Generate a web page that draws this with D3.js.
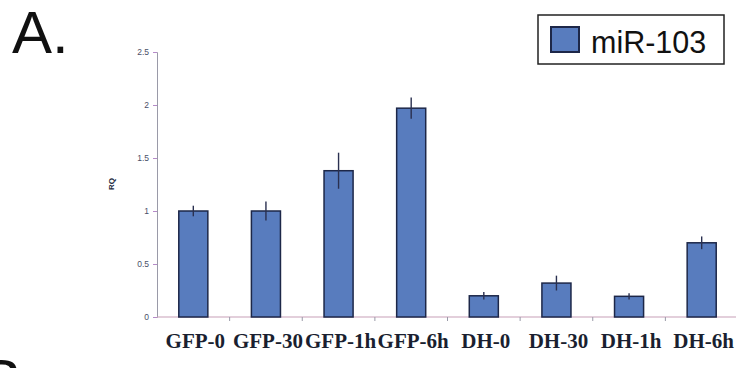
<!DOCTYPE html>
<html>
<head>
<meta charset="utf-8">
<script src="https://cdn.jsdelivr.net/npm/d3@7"></script>
<style>
  html, body { margin: 0; padding: 0; background: #fff; }
  svg { display: block; }
</style>
</head>
<body>
<svg id="chart" width="736" height="368"></svg>
<script>
// Relative quantity (RQ) of miR-103 per condition
const categories = ["GFP-0", "GFP-30", "GFP-1h", "GFP-6h", "DH-0", "DH-30", "DH-1h", "DH-6h"];
const rqValues   = [1.0, 1.0, 1.38, 1.97, 0.20, 0.32, 0.195, 0.70];
const rqErrors   = [0.05, 0.09, 0.17, 0.10, 0.035, 0.07, 0.03, 0.06];
const yTicks     = [0, 0.5, 1, 1.5, 2, 2.5];
const seriesName = "miR-103";

const svg = d3.select("#chart");
const margin = { left: 157, right: -2, top: 52, bottom: 51 };
const W = 736, H = 368;

const x = d3.scaleBand()
  .domain(categories)
  .range([margin.left, W - margin.right])
  .paddingInner(0.6)
  .paddingOuter(0.3);

const y = d3.scaleLinear()
  .domain([0, 2.5])
  .range([H - margin.bottom, margin.top]);

const barFill = "#587cbe";
const barStroke = "#1d2748";

// Panel letter
svg.append("text")
  .attr("x", 12).attr("y", 53)
  .attr("font-family", "Liberation Sans, Arial, sans-serif")
  .attr("font-size", 60)
  .attr("fill", "#111")
  .text("A.");

// Next panel letter, cut by the bottom edge
svg.append("text")
  .attr("x", -18).attr("y", 401)
  .attr("font-family", "Liberation Sans, Arial, sans-serif")
  .attr("font-size", 60)
  .attr("fill", "#111")
  .text("B.");

// Y axis
const yAxis = d3.axisLeft(y)
  .tickValues(yTicks)
  .tickSize(4)
  .tickPadding(4)
  .tickFormat(d => d3.format("")(d));

const gy = svg.append("g")
  .attr("transform", `translate(${margin.left},0)`)
  .call(yAxis);
gy.select(".domain").attr("stroke", "#9a9aa8").attr("stroke-width", 1);
gy.selectAll(".tick line").attr("stroke", "#b58ac8");
gy.selectAll(".tick text")
  .attr("font-family", "Liberation Sans, Arial, sans-serif")
  .attr("font-size", 8.5)
  .attr("fill", "#4a5068");

// Y axis title
svg.append("text")
  .attr("transform", `translate(114,184) rotate(-90)`)
  .attr("text-anchor", "middle")
  .attr("font-family", "Liberation Sans, Arial, sans-serif")
  .attr("font-size", 8)
  .attr("font-weight", "bold")
  .attr("fill", "#222a40")
  .text("RQ");

// X axis with ticks between categories
const gx = svg.append("g")
  .attr("transform", `translate(0,${y(0)})`);
gx.append("line")
  .attr("x1", margin.left).attr("x2", W)
  .attr("stroke", "#c8a0b8").attr("stroke-width", 1.2);
const step = x.step();
const boundaries = d3.range(1, categories.length).map(i => x.range()[0] + i * step);
gx.selectAll(".sep").data(boundaries).join("line")
  .attr("class", "sep")
  .attr("x1", d => d).attr("x2", d => d)
  .attr("y1", 0).attr("y2", 4)
  .attr("stroke", "#9a9aa8");

// Bars
svg.append("g").selectAll("rect").data(categories).join("rect")
  .attr("x", d => x(d))
  .attr("y", (d, i) => y(rqValues[i]))
  .attr("width", x.bandwidth())
  .attr("height", (d, i) => y(0) - y(rqValues[i]))
  .attr("fill", barFill)
  .attr("stroke", barStroke)
  .attr("stroke-width", 1.5);

// Error bars
svg.append("g").selectAll("line").data(categories).join("line")
  .attr("x1", d => x(d) + x.bandwidth() / 2)
  .attr("x2", d => x(d) + x.bandwidth() / 2)
  .attr("y1", (d, i) => y(rqValues[i] + rqErrors[i]))
  .attr("y2", (d, i) => y(rqValues[i] - rqErrors[i]))
  .attr("stroke", "#2a3050")
  .attr("stroke-width", 1.4);

// Category labels
svg.append("g").selectAll("text").data(categories).join("text")
  .attr("x", d => x(d) + x.bandwidth() / 2 + 2)
  .attr("y", 348)
  .attr("text-anchor", "middle")
  .attr("font-family", "Liberation Serif, 'Times New Roman', serif")
  .attr("font-weight", "bold")
  .attr("font-size", 21)
  .attr("fill", "#1a1f30")
  .text(d => d);

// Legend
const lg = svg.append("g");
lg.append("rect")
  .attr("x", 538).attr("y", 15)
  .attr("width", 186).attr("height", 49)
  .attr("fill", "#fff")
  .attr("stroke", "#222")
  .attr("stroke-width", 1.5);
lg.append("rect")
  .attr("x", 551).attr("y", 27)
  .attr("width", 28).attr("height", 25)
  .attr("fill", barFill)
  .attr("stroke", barStroke)
  .attr("stroke-width", 2);
lg.append("text")
  .attr("x", 591).attr("y", 53)
  .attr("font-family", "Liberation Sans, Arial, sans-serif")
  .attr("font-size", 30.5)
  .attr("fill", "#111")
  .text(seriesName);
</script>
</body>
</html>
